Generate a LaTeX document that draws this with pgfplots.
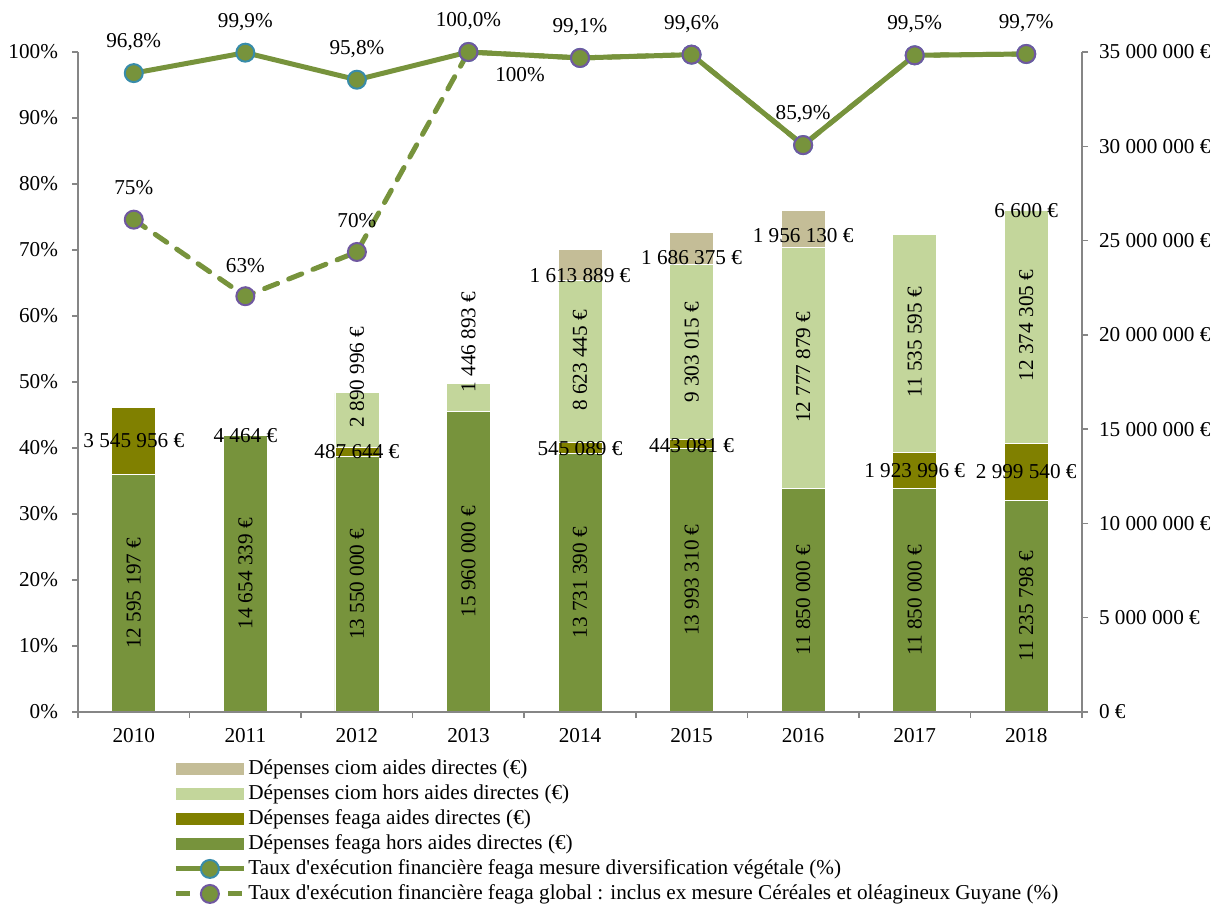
\documentclass[border=0pt]{standalone}
\usepackage{fontspec}
\setmainfont{Liberation Serif}
\usepackage{pgfplots}
\pgfplotsset{compat=1.18}
\definecolor{feagahors}{RGB}{119,147,60}
\definecolor{feagaaides}{RGB}{128,128,0}
\definecolor{ciomhors}{RGB}{195,214,155}
\definecolor{ciomaides}{RGB}{196,189,151}
\definecolor{linecol}{RGB}{119,147,60}
\definecolor{tealedge}{RGB}{56,140,170}
\definecolor{purpedge}{RGB}{112,88,160}
\definecolor{axgray}{RGB}{134,134,134}
\newcommand{\fs}{\fontsize{10.6pt}{12.5pt}\selectfont}
\pgfplotsset{
  base/.style={scale only axis, width=502pt, height=330pt, xmin=-0.5, xmax=8.5,
    font=\fs, tick label style={font=\fs}},
  mybarleg/.style={legend image code/.code={\fill[##1] (0pt,-3pt) rectangle (34pt,3pt);}},
  mylineleg/.style={legend image code/.code={\draw[mark repeat=2,mark phase=2,##1] plot coordinates {(0pt,0pt) (17pt,0pt) (34pt,0pt)};}},
  lab/.style={draw=none, mark=none, forget plot, nodes near coords, point meta=explicit symbolic,
    every node near coord/.style={anchor=center, font=\fs, inner sep=0pt, text=black}},
}
\begin{document}
\begin{tikzpicture}
% ---------- bars (right axis) ----------
\begin{axis}[base, ybar stacked, bar width=22pt, ymin=0, ymax=35000000,
  axis x line=none, axis y line*=right, scaled y ticks=false,
  ytick={0,5000000,10000000,15000000,20000000,25000000,30000000,35000000},
  yticklabels={0~€,5~000~000~€,10~000~000~€,15~000~000~€,20~000~000~€,25~000~000~€,30~000~000~€,35~000~000~€},
  tick align=outside, major tick length=3pt,
  y axis line style={axgray, line width=0.75pt},
  ytick style={axgray, line width=0.75pt},
  yticklabel style={xshift=2pt}]
\addplot[fill=feagahors, draw=white, line width=0.3pt] coordinates {(0,12595197) (1,14654339) (2,13550000) (3,15960000) (4,13731390) (5,13993310) (6,11850000) (7,11850000) (8,11235798)};
\addplot[fill=feagaaides, draw=white, line width=0.3pt] coordinates {(0,3545956) (1,4464) (2,487644) (3,0) (4,545089) (5,443081) (6,0) (7,1923996) (8,2999540)};
\addplot[fill=ciomhors, draw=white, line width=0.3pt] coordinates {(0,0) (1,0) (2,2890996) (3,1446893) (4,8623445) (5,9303015) (6,12777879) (7,11535595) (8,12374305)};
\addplot[fill=ciomaides, draw=white, line width=0.3pt] coordinates {(0,0) (1,0) (2,0) (3,0) (4,1613889) (5,1686375) (6,1956130) (7,0) (8,6600)};
\end{axis}
% ---------- bar labels ----------
\begin{axis}[base, hide axis, ymin=0, ymax=35000000, clip=false]
\addplot[lab, every node near coord/.append style={rotate=90}] table[x=x, y=y, meta=lab] {
x y lab
0 6297598 12~595~197~€
1 7327170 14~654~339~€
2 6775000 13~550~000~€
3 7980000 15~960~000~€
4 6865695 13~731~390~€
5 6996655 13~993~310~€
6 5925000 11~850~000~€
7 5925000 11~850~000~€
8 5617899 11~235~798~€
2 17770000 2~890~996~€
3 19620000 1~446~893~€
4 18650000 8~623~445~€
5 19070000 9~303~015~€
6 18280000 12~777~879~€
7 19600000 11~535~595~€
8 20500000 12~374~305~€
};
\addplot[lab] table[x=x, y=y, meta=lab] {
x y lab
0 14410000 3~545~956~€
1 14670000 4~464~€
2 13790000 487~644~€
4 13980000 545~089~€
5 14140000 443~081~€
7 12820000 1~923~996~€
8 12730000 2~999~540~€
4 23160000 1~613~889~€
5 24110000 1~686~375~€
6 25280000 1~956~130~€
8 26570000 6~600~€
};
\end{axis}
% ---------- lines (left axis) ----------
\begin{axis}[base, ymin=0, ymax=100, clip=false,
  axis x line*=bottom, axis y line*=left,
  xtick={-0.5,0.5,1.5,2.5,3.5,4.5,5.5,6.5,7.5,8.5}, x tick label as interval,
  xticklabels={2010,2011,2012,2013,2014,2015,2016,2017,2018},
  xticklabel style={yshift=-1.5pt},
  ytick={0,10,20,30,40,50,60,70,80,90,100},
  yticklabels={0\%,10\%,20\%,30\%,40\%,50\%,60\%,70\%,80\%,90\%,100\%},
  yticklabel style={xshift=-3.5pt},
  tick align=outside, major tick length=3pt,
  axis line style={axgray, line width=0.75pt},
  tick style={axgray, line width=0.75pt},
  legend cell align=left,
  legend style={at={(0.0946,-0.0667)}, anchor=north west, draw=none, fill=none,
    inner sep=0pt, row sep=0pt, font=\fs,
    nodes={inner sep=1pt, text height=8pt, text depth=2.5pt}}]
\addlegendimage{mybarleg, fill=ciomaides, draw=none}
\addlegendentry{Dépenses ciom aides directes (€)}
\addlegendimage{mybarleg, fill=ciomhors, draw=none}
\addlegendentry{Dépenses ciom hors aides directes (€)}
\addlegendimage{mybarleg, fill=feagaaides, draw=none}
\addlegendentry{Dépenses feaga aides directes (€)}
\addlegendimage{mybarleg, fill=feagahors, draw=none}
\addlegendentry{Dépenses feaga hors aides directes (€)}
\addlegendimage{mylineleg, linecol, line width=2.5pt, mark=*, mark size=4.5pt, mark options={fill=linecol, draw=tealedge, line width=1pt, solid}}
\addlegendentry{Taux d\textquotesingle exécution financière feaga mesure diversification végétale (\%)}
\addlegendimage{mylineleg, linecol, line width=2.5pt, dash pattern=on 7pt off 6pt, mark=*, mark size=4.5pt, mark options={fill=linecol, draw=purpedge, line width=1pt, solid}}
\addlegendentry{Taux d\textquotesingle exécution financière feaga global : inclus ex mesure Céréales et oléagineux Guyane (\%)}
\addplot[forget plot, linecol, line width=2.5pt, mark=*, mark size=4.5pt, mark options={fill=linecol, draw=tealedge, line width=1pt, solid}] coordinates {(0,96.8) (1,99.9) (2,95.8) (3,100.0) (4,99.1) (5,99.6) (6,85.9) (7,99.5) (8,99.7)};
\addplot[forget plot, linecol, line width=2.5pt, line cap=round, dash pattern=on 7pt off 6pt, mark=*, mark size=4.5pt, mark options={fill=linecol, draw=purpedge, line width=1pt, solid}] coordinates {(0,74.6) (1,63.0) (2,69.7) (3,100) (4,99.1) (5,99.6) (6,85.9) (7,99.5) (8,99.7)};
\addplot[lab, every node near coord/.append style={yshift=15.5pt}] table[x=x, y=y, meta=lab] {
x y lab
0 96.8 96,8\%
1 99.9 99,9\%
2 95.8 95,8\%
3 100.0 100,0\%
4 99.1 99,1\%
5 99.6 99,6\%
6 85.9 85,9\%
7 99.5 99,5\%
8 99.7 99,7\%
};
\addplot[lab] table[x=x, y=y, meta=lab] {
x y lab
0 79.45 75\%
1 67.7 63\%
2 74.5 70\%
3.462 96.6 100\%
};
\coordinate (SW) at (rel axis cs:0,0);
\coordinate (NE) at (rel axis cs:1,1);
\end{axis}
\pgfresetboundingbox
\path ([shift={(-39pt,-97.15pt)}]SW) rectangle ([shift={(66.5pt,26pt)}]NE);
\end{tikzpicture}
\end{document}
